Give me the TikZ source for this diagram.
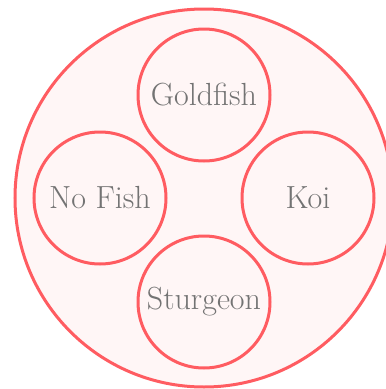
\documentclass[tikz,border=0pt]{standalone}
\usepackage{xcolor}
\definecolor{rimred}{HTML}{FF5C61}
\definecolor{pondpink}{HTML}{FFF6F6}
\definecolor{labelgray}{HTML}{737373}

\begin{document}
\begin{tikzpicture}[x=1pt,y=-1pt,
    pond/.style={circle,draw=rimred,fill=pondpink,line width=3pt,minimum size=378pt,inner sep=0pt},
    fish/.style={circle,draw=rimred,fill=pondpink,line width=3pt,minimum size=132pt,inner sep=0pt,
        text=labelgray,font=\fontsize{32}{38}\selectfont}]
    \useasboundingbox (0,0) rectangle (386,389);
    \clip (0,0) rectangle (386,389);
    \node[pond] (pond) at (204,198) {};
    \node[fish] (goldfish) at (204,95) {Goldfish};
    \node[fish] (nofish) at (100,198) {No Fish};
    \node[fish] (koi) at (308,198) {Koi};
    \node[fish] (sturgeon) at (204,302) {Sturgeon};
\end{tikzpicture}
\end{document}
